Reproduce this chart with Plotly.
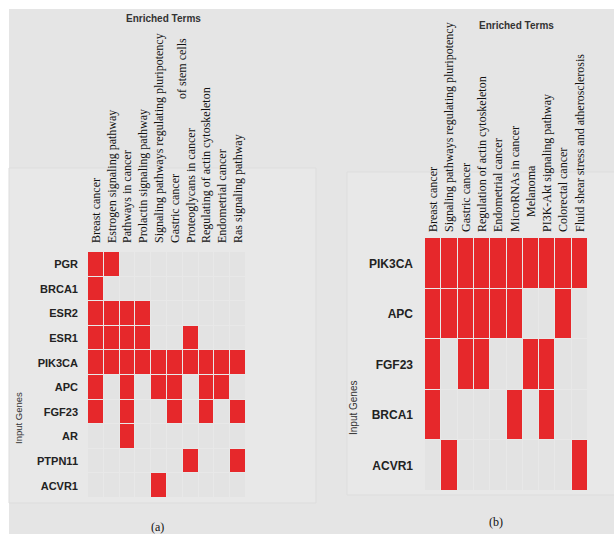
import plotly.graph_objects as go

# ---- data: gene / enriched-term membership -------------------------------
terms_a = [
    "Breast cancer",
    "Estrogen signaling pathway",
    "Pathways in cancer",
    "Prolactin signaling pathway",
    "Signaling pathways regulating pluripotency of stem cells",
    "Gastric cancer",
    "Proteoglycans in cancer",
    "Regulating of actin cytoskeleton",
    "Endometrial cancer",
    "Ras signaling pathway",
]
genes_a = ["PGR", "BRCA1", "ESR2", "ESR1", "PIK3CA", "APC", "FGF23", "AR", "PTPN11", "ACVR1"]
member_a = [
    [1, 1, 0, 0, 0, 0, 0, 0, 0, 0],  # PGR
    [1, 0, 0, 0, 0, 0, 0, 0, 0, 0],  # BRCA1
    [1, 1, 1, 1, 0, 0, 0, 0, 0, 0],  # ESR2
    [1, 1, 1, 1, 0, 0, 1, 0, 0, 0],  # ESR1
    [1, 1, 1, 1, 1, 1, 1, 1, 1, 1],  # PIK3CA
    [1, 0, 1, 0, 1, 1, 0, 1, 1, 0],  # APC
    [1, 0, 1, 0, 0, 1, 0, 1, 0, 1],  # FGF23
    [0, 0, 1, 0, 0, 0, 0, 0, 0, 0],  # AR
    [0, 0, 0, 0, 0, 0, 1, 0, 0, 1],  # PTPN11
    [0, 0, 0, 0, 1, 0, 0, 0, 0, 0],  # ACVR1
]

terms_b = [
    "Breast cancer",
    "Signaling pathways regulating pluripotency",
    "Gastric cancer",
    "Regulation of actin cytoskeleton",
    "Endometrial cancer",
    "MicroRNAs in cancer",
    "Melanoma",
    "PI3K-Akt signaling pathway",
    "Colorectal cancer",
    "Fluid shear stress and atherosclerosis",
]
genes_b = ["PIK3CA", "APC", "FGF23", "BRCA1", "ACVR1"]
member_b = [
    [1, 1, 1, 1, 1, 1, 1, 1, 1, 1],  # PIK3CA
    [1, 1, 1, 1, 1, 1, 0, 0, 1, 0],  # APC
    [1, 0, 1, 1, 0, 0, 1, 1, 0, 0],  # FGF23
    [1, 0, 0, 0, 0, 1, 0, 1, 0, 0],  # BRCA1
    [0, 1, 0, 0, 0, 0, 0, 0, 0, 1],  # ACVR1
]

panel_labels = ["(a)", "(b)"]

# ---- styling ---------------------------------------------------------------
W, H = 614, 534
RED = "#e6282b"
EMPTY = "#e3e3e3"
GAP = "#ededed"
BG = "#e5e5e5"
PANEL = "#e8e8e8"
SERIF = "Liberation Serif, Times New Roman, serif"
SANS = "Liberation Sans, Arial, sans-serif"


def px_x(x):
    return x / W


def px_y(y):
    return 1 - y / H


colorscale = [[0, EMPTY], [1, RED]]

fig = go.Figure()

fig.add_trace(go.Heatmap(
    z=member_a, x=terms_a, y=genes_a, xaxis="x", yaxis="y",
    colorscale=colorscale, zmin=0, zmax=1, showscale=False,
    xgap=1, ygap=1, hoverinfo="x+y",
))
fig.add_trace(go.Heatmap(
    z=member_b, x=terms_b, y=genes_b, xaxis="x2", yaxis="y2",
    colorscale=colorscale, zmin=0, zmax=1, showscale=False,
    xgap=1, ygap=1, hoverinfo="x+y",
))

# long term names are broken over two columns of text: the first part is the
# tick label, the remainder is set just beside it
SPLIT = "Signaling pathways regulating pluripotency"
tick_a = [SPLIT if t.startswith(SPLIT) and t != SPLIT else t for t in terms_a]
rest_a = [t[len(SPLIT):].strip() for t in terms_a if t.startswith(SPLIT) and t != SPLIT]
tick_b = [("\u00a0" * 5 + t) if t == "Melanoma" else t for t in terms_b]

xcommon = dict(side="top", tickangle=-90, showgrid=False, zeroline=False,
               ticks="", showline=False, type="category",
               tickfont=dict(family=SERIF, size=12, color="#111"))
ycommon = dict(autorange="reversed", showgrid=False, zeroline=False,
               ticks="", showline=False, type="category")

fig.update_layout(
    width=W, height=H,
    margin=dict(l=0, r=0, t=0, b=0),
    paper_bgcolor=BG, plot_bgcolor=GAP,
    showlegend=False,
    xaxis=dict(domain=[px_x(88), px_x(246)], anchor="y",
               tickmode="array", tickvals=terms_a, ticktext=tick_a,
               ticklabelstandoff=8, **xcommon),
    yaxis=dict(domain=[px_y(498), px_y(252)], anchor="x",
               ticklabelstandoff=9,
               tickfont=dict(family=SANS, size=11, color="#222", weight="bold"),
               **ycommon),
    xaxis2=dict(domain=[px_x(425), px_x(588)], anchor="y2",
                tickmode="array", tickvals=terms_b, ticktext=tick_b,
                ticklabelstandoff=5, **xcommon),
    yaxis2=dict(domain=[px_y(491), px_y(238)], anchor="x2",
                ticklabelstandoff=11,
                tickfont=dict(family=SANS, size=12, color="#222", weight="bold"),
                **ycommon),
)

# white border strips and the two panel frames
shapes = [
    dict(type="rect", xref="paper", yref="paper", x0=0, x1=1, y0=px_y(9), y1=1,
         fillcolor="white", line_width=0, layer="below"),
    dict(type="rect", xref="paper", yref="paper", x0=0, x1=px_x(9), y0=0, y1=1,
         fillcolor="white", line_width=0, layer="below"),
    dict(type="rect", xref="paper", yref="paper", x0=px_x(9), x1=px_x(316),
         y0=px_y(503), y1=px_y(168), fillcolor=PANEL,
         line=dict(color="#dddddd", width=1), layer="below"),
    dict(type="rect", xref="paper", yref="paper", x0=px_x(347), x1=px_x(616),
         y0=px_y(495), y1=px_y(172), fillcolor=PANEL,
         line=dict(color="#dddddd", width=1), layer="below"),
]

annotations = [
    dict(text="<b>Enriched Terms</b>", x=px_x(163), y=px_y(19),
         font=dict(family=SANS, size=10, color="#333")),
    dict(text="<b>Enriched Terms</b>", x=px_x(516), y=px_y(25),
         font=dict(family=SANS, size=10, color="#333")),
    dict(text="Input Genes", x=px_x(18), y=px_y(418), textangle=-90,
         font=dict(family=SANS, size=9.5, color="#333")),
    dict(text="Input Genes", x=px_x(353), y=px_y(408), textangle=-90,
         font=dict(family=SANS, size=10, color="#333")),
    dict(text=panel_labels[0], x=px_x(157), y=px_y(527),
         font=dict(family=SERIF, size=12, color="#111")),
    dict(text=panel_labels[1], x=px_x(496), y=px_y(522),
         font=dict(family=SERIF, size=12, color="#111")),
]
for r in rest_a:
    annotations.append(dict(text=r, x=px_x(182), y=px_y(69), textangle=-90,
                            font=dict(family=SERIF, size=12, color="#111")))

for a in annotations:
    a.update(xref="paper", yref="paper", showarrow=False,
             xanchor="center", yanchor="middle")

fig.update_layout(shapes=shapes, annotations=annotations)

fig.write_html("out.html")
